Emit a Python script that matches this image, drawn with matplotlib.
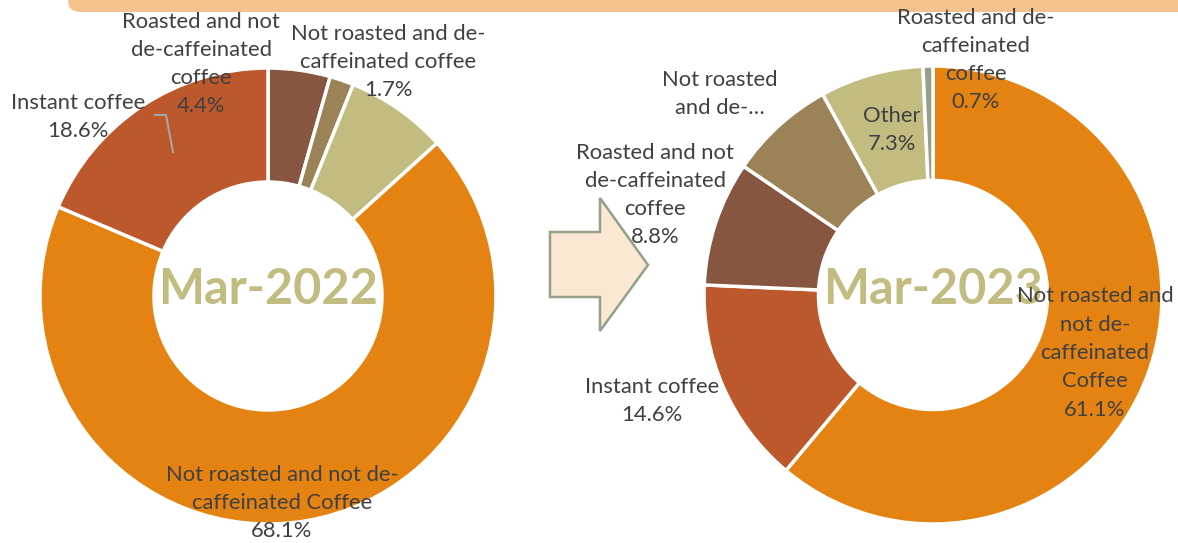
import matplotlib
matplotlib.use("Agg")
import matplotlib.pyplot as plt
from matplotlib.patches import FancyBboxPatch, Polygon

W, H = 1178, 543

# ---------------- data ----------------
left_title = "Mar-2022"
left_cats = ["Roasted and not de-caffeinated coffee",
             "Not roasted and de-caffeinated coffee",
             "Other",
             "Not roasted and not de-caffeinated Coffee",
             "Instant coffee"]
left_vals = [4.4, 1.7, 7.2, 68.1, 18.6]
left_colors = ["#865640", "#9B8357", "#C2BC80", "#E48312", "#BD582C"]

right_title = "Mar-2023"
right_cats = ["Not roasted and not de-caffeinated Coffee",
              "Instant coffee",
              "Roasted and not de-caffeinated coffee",
              "Not roasted and de-caffeinated coffee",
              "Other",
              "Roasted and de-caffeinated coffee"]
right_vals = [61.1, 14.6, 8.8, 7.5, 7.3, 0.7]
right_colors = ["#E48312", "#BD582C", "#865640", "#9B8357", "#C2BC80", "#94A088"]

FONT = ["Lato", "DejaVu Sans"]
LBL = "#404040"
fs = 15.8

fig = plt.figure(figsize=(W / 100, H / 100), dpi=100)


def donut(cx, cy, r, vals, colors):
    ax = fig.add_axes([(cx - r) / W, 1 - (cy + r) / H, 2 * r / W, 2 * r / H])
    ax.pie(vals, colors=colors, startangle=90, counterclock=False,
           wedgeprops=dict(width=0.5, edgecolor="white", linewidth=2.5))
    ax.set_xlim(-1, 1)
    ax.set_ylim(-1, 1)
    ax.set_aspect("equal")
    ax.axis("off")
    return ax


donut(268, 296, 228, left_vals, left_colors)
donut(933, 295, 229, right_vals, right_colors)

# overlay in pixel coordinates
ov = fig.add_axes([0, 0, 1, 1], zorder=5)
ov.set_xlim(0, W)
ov.set_ylim(H, 0)
ov.axis("off")
ov.patch.set_alpha(0)

# top band
band = FancyBboxPatch((68, -40), W, 52, boxstyle="round,pad=0,rounding_size=12",
                      facecolor="#F3C38B", edgecolor="none")
ov.add_patch(band)

# arrow
arrow = Polygon([(550, 232), (600, 232), (600, 198), (648, 265), (600, 331),
                 (600, 297), (550, 297)], closed=True,
                facecolor="#FBE8D2", edgecolor="#94A088", linewidth=1.8)
ov.add_patch(arrow)

# big titles
for x, y, t in [(268, 290, left_title), (933, 290, right_title)]:
    ov.text(x, y, t, ha="center", va="center", fontsize=35, fontweight="bold",
            color="#C2BC80", family=FONT)


def lbl(x, y, s):
    ov.text(x, y, s, ha="center", va="center", fontsize=fs, color=LBL,
            family=FONT, linespacing=1.52)


# left labels
lbl(201, 64, "Roasted and not\nde-caffeinated\ncoffee\n4.4%")
lbl(388, 62, "Not roasted and de-\ncaffeinated coffee\n1.7%")
lbl(78, 117, "Instant coffee\n18.6%")
lbl(282, 503, "Not roasted and not de-\ncaffeinated Coffee\n68.1%")
ov.plot([155, 166, 173], [115, 115, 152], color="#A6A6A6", lw=1.5)

# right labels
lbl(976, 60, "Roasted and de-\ncaffeinated\ncoffee\n0.7%")
lbl(720, 94, "Not roasted\nand de-…")
lbl(892, 130, "Other\n7.3%")
lbl(655, 195, "Roasted and not\nde-caffeinated\ncoffee\n8.8%")
lbl(652, 401, "Instant coffee\n14.6%")
lbl(1095, 353, "Not roasted and\nnot de-\ncaffeinated\nCoffee\n61.1%")

fig.savefig("out.png", dpi=100)
